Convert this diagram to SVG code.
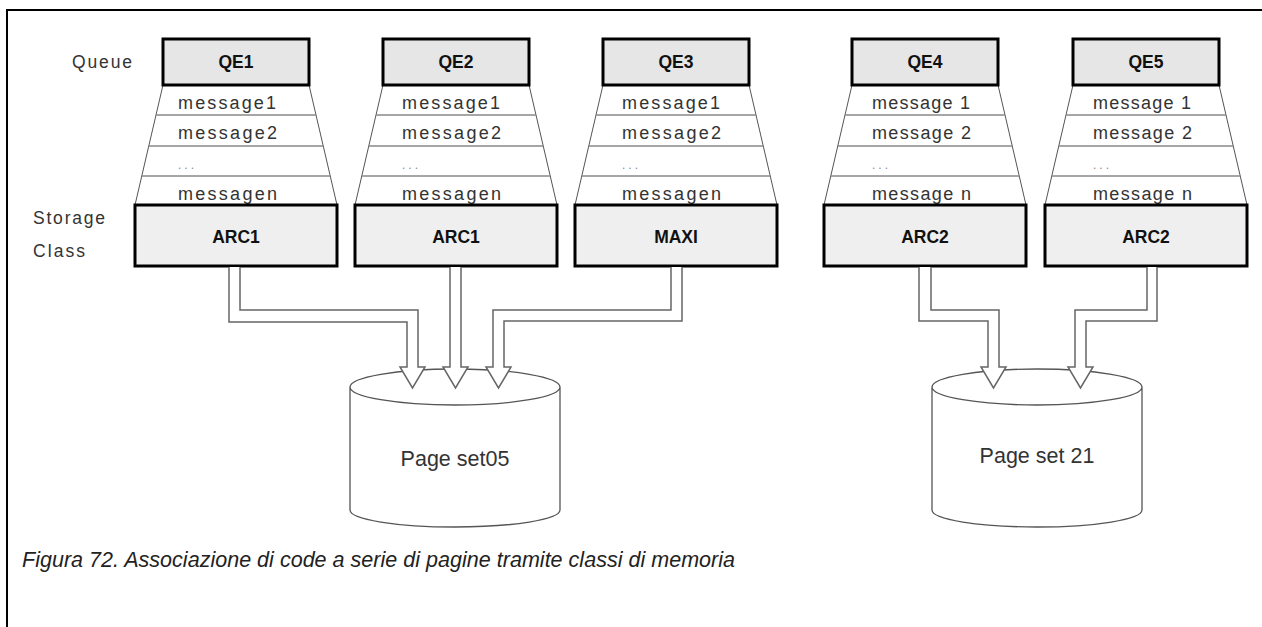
<svg xmlns="http://www.w3.org/2000/svg" width="1262" height="627" viewBox="0 0 1262 627">
<style>
.frame{fill:none;stroke:#000;stroke-width:2}
.qbox{fill:#e6e6e6;stroke:#000;stroke-width:3}
.sbox{fill:#efefef;stroke:#000;stroke-width:3}
.trap{fill:#fff;stroke:#555;stroke-width:1}
.row{stroke:#888;stroke-width:1.5}
.lbl{font-family:"Liberation Sans",Arial,sans-serif;font-weight:bold;font-size:17.5px;fill:#111;text-anchor:middle}
.msg{font-family:"Liberation Sans",Arial,sans-serif;font-size:18px;fill:#333}
.dots{font-family:"Liberation Sans",Arial,sans-serif;font-size:12px;fill:#888;letter-spacing:3px}
.side{font-family:"Liberation Sans",Arial,sans-serif;font-size:17.5px;fill:#333}
.cyl{fill:#fff;stroke:#555;stroke-width:1.3}
.ps{font-family:"Liberation Sans",Arial,sans-serif;font-size:21.5px;fill:#333;text-anchor:middle}
.arrow{fill:#fff;stroke:#666;stroke-width:1.5;stroke-linejoin:miter}
.cap{font-family:"Liberation Sans",Arial,sans-serif;font-style:italic;font-size:21.5px;fill:#222}
</style>
<path class="frame" d="M7 627 V10 H1262"/>
<text class="side" x="72" y="68" textLength="60">Queue</text>
<text class="side" x="33" y="224" textLength="72">Storage</text>
<text class="side" x="33" y="257" textLength="52">Class</text>

<g id="queue-qe1">
<path class="trap" d="M163 85 L135 205 L337 205 L309 85 Z"/>
<line class="row" x1="156" y1="115" x2="316" y2="115"/>
<line class="row" x1="149" y1="146" x2="323" y2="146"/>
<line class="row" x1="142" y1="176" x2="330" y2="176"/>
<rect class="qbox" x="163" y="39" width="146" height="46"/>
<text class="lbl" x="236" y="68">QE1</text>
<text class="msg" x="178" y="109" textLength="98">message1</text>
<text class="msg" x="178" y="139" textLength="99">message2</text>
<text class="dots" x="178" y="169">...</text>
<text class="msg" x="178" y="200" textLength="99">messagen</text>
<rect class="sbox" x="135" y="205" width="202" height="61"/>
<text class="lbl" x="236" y="243">ARC1</text>
</g>

<g id="queue-qe2">
<path class="trap" d="M383 85 L355 205 L557 205 L529 85 Z"/>
<line class="row" x1="376" y1="115" x2="536" y2="115"/>
<line class="row" x1="369" y1="146" x2="543" y2="146"/>
<line class="row" x1="362" y1="176" x2="550" y2="176"/>
<rect class="qbox" x="383" y="39" width="146" height="46"/>
<text class="lbl" x="456" y="68">QE2</text>
<text class="msg" x="402" y="109" textLength="98">message1</text>
<text class="msg" x="402" y="139" textLength="99">message2</text>
<text class="dots" x="402" y="169">...</text>
<text class="msg" x="402" y="200" textLength="99">messagen</text>
<rect class="sbox" x="355" y="205" width="202" height="61"/>
<text class="lbl" x="456" y="243">ARC1</text>
</g>

<g id="queue-qe3">
<path class="trap" d="M603 85 L575 205 L777 205 L749 85 Z"/>
<line class="row" x1="596" y1="115" x2="756" y2="115"/>
<line class="row" x1="589" y1="146" x2="763" y2="146"/>
<line class="row" x1="582" y1="176" x2="770" y2="176"/>
<rect class="qbox" x="603" y="39" width="146" height="46"/>
<text class="lbl" x="676" y="68">QE3</text>
<text class="msg" x="622" y="109" textLength="98">message1</text>
<text class="msg" x="622" y="139" textLength="99">message2</text>
<text class="dots" x="622" y="169">...</text>
<text class="msg" x="622" y="200" textLength="99">messagen</text>
<rect class="sbox" x="575" y="205" width="202" height="61"/>
<text class="lbl" x="676" y="243">MAXI</text>
</g>

<g id="queue-qe4">
<path class="trap" d="M852 85 L824 205 L1026 205 L998 85 Z"/>
<line class="row" x1="845" y1="115" x2="1005" y2="115"/>
<line class="row" x1="838" y1="146" x2="1012" y2="146"/>
<line class="row" x1="831" y1="176" x2="1019" y2="176"/>
<rect class="qbox" x="852" y="39" width="146" height="46"/>
<text class="lbl" x="925" y="68">QE4</text>
<text class="msg" x="872" y="109" textLength="98">message 1</text>
<text class="msg" x="872" y="139" textLength="99">message 2</text>
<text class="dots" x="872" y="169">...</text>
<text class="msg" x="872" y="200" textLength="99">message n</text>
<rect class="sbox" x="824" y="205" width="202" height="61"/>
<text class="lbl" x="925" y="243">ARC2</text>
</g>

<g id="queue-qe5">
<path class="trap" d="M1073 85 L1045 205 L1247 205 L1219 85 Z"/>
<line class="row" x1="1066" y1="115" x2="1226" y2="115"/>
<line class="row" x1="1059" y1="146" x2="1233" y2="146"/>
<line class="row" x1="1052" y1="176" x2="1240" y2="176"/>
<rect class="qbox" x="1073" y="39" width="146" height="46"/>
<text class="lbl" x="1146" y="68">QE5</text>
<text class="msg" x="1093" y="109" textLength="98">message 1</text>
<text class="msg" x="1093" y="139" textLength="99">message 2</text>
<text class="dots" x="1093" y="169">...</text>
<text class="msg" x="1093" y="200" textLength="99">message n</text>
<rect class="sbox" x="1045" y="205" width="202" height="61"/>
<text class="lbl" x="1146" y="243">ARC2</text>
</g>

<g id="pageset-05">
<path class="cyl" d="M350 387 V510 A105 17 0 0 0 560 510 V387 A105 18 0 0 0 350 387 A105 18 0 0 0 560 387"/>
<text class="ps" x="455" y="466">Page set05</text>
</g>

<g id="pageset-21">
<path class="cyl" d="M932 387 V510 A105 17 0 0 0 1142 510 V387 A105 18 0 0 0 932 387 A105 18 0 0 0 1142 387"/>
<text class="ps" x="1037" y="463">Page set 21</text>
</g>

<g id="connectors">
<path class="arrow" d="M229 267 V322 H407 V367 H400 L412.5 388 L425 367 H418 V310 H240 V267"/>
<path class="arrow" d="M450 267 V367 H443 L455.5 388 L468 367 H461 V267"/>
<path class="arrow" d="M682 267 V321 H504 V367 H511 L498.5 388 L486 367 H493 V310 H671 V267"/>
<path class="arrow" d="M919 267 V321 H988 V367 H981 L993.5 388 L1006 367 H999 V310 H931 V267"/>
<path class="arrow" d="M1157 267 V321 H1086 V367 H1093 L1080.5 388 L1068 367 H1075 V310 H1147 V267"/>
</g>

<text class="cap" x="22" y="567" textLength="713">Figura 72. Associazione di code a serie di pagine tramite classi di memoria</text>
</svg>
